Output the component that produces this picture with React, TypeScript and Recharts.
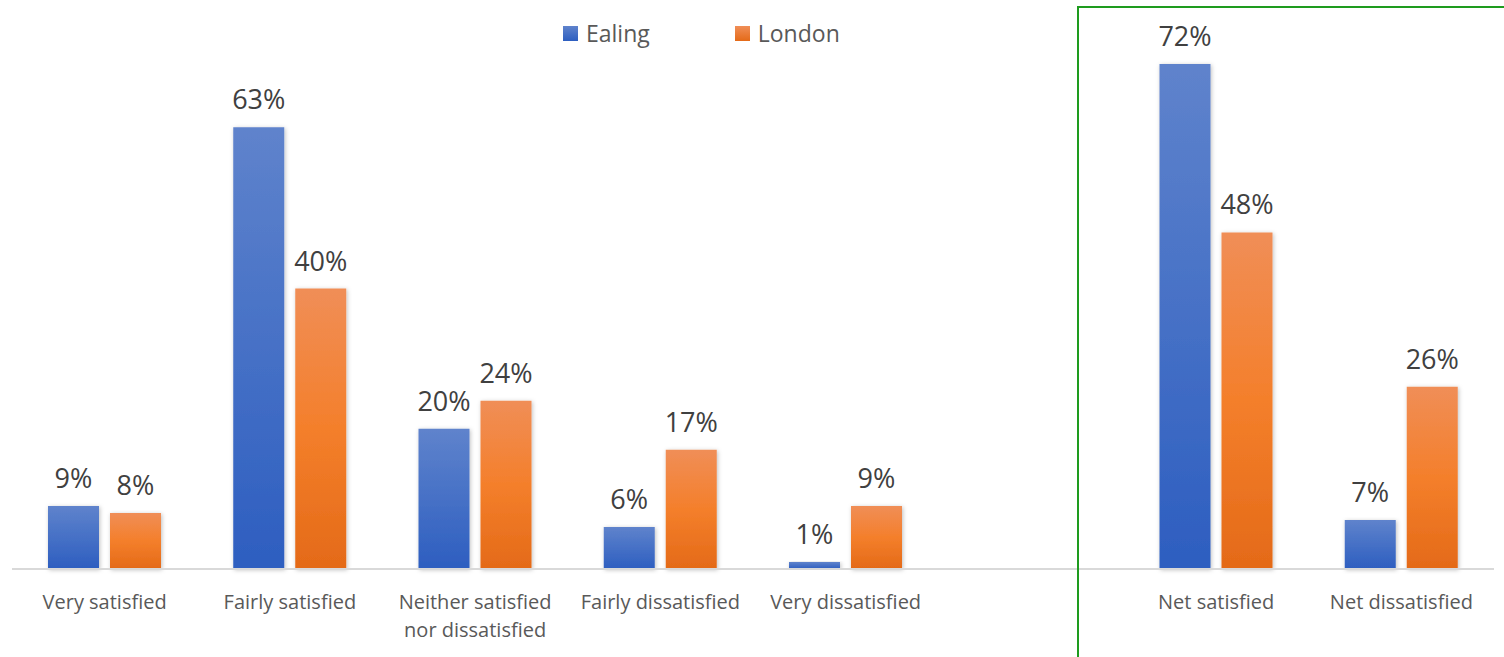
import React from "react";
import { BarChart, Bar, XAxis, YAxis, LabelList } from "recharts";

const categories = [
  "Very satisfied",
  "Fairly satisfied",
  "Neither satisfied\nnor dissatisfied",
  "Fairly dissatisfied",
  "Very dissatisfied",
  "",
  "Net satisfied",
  "Net dissatisfied",
];
const ealing = [9, 63, 20, 6, 1, null, 72, 7];
const london = [8, 40, 24, 17, 9, null, 48, 26];

const data = categories.map((name, i) => ({ name, ealing: ealing[i], london: london[i] }));

const FONT = "'Open Sans', sans-serif";

const pct = (v: any) => (v === null || v === undefined ? "" : `${v}%`);

const CategoryTick = (props: any) => {
  const { x, y, payload } = props;
  const lines = String(payload.value).split("\n");
  return (
    <text x={x} y={y} textAnchor="middle" fill="#595959" fontSize={20} fontFamily={FONT}>
      {lines.map((line, i) => (
        <tspan key={i} x={x} dy={i === 0 ? 32 : 28}>
          {line}
        </tspan>
      ))}
    </text>
  );
};

const LegendItem = ({ color, label }: { color: string; label: string }) => (
  <div style={{ display: "flex", alignItems: "center", marginRight: 85 }}>
    <div style={{ width: 15, height: 15, background: color, marginRight: 8 }} />
    <span style={{ fontSize: 23, color: "#595959", fontFamily: FONT }}>{label}</span>
  </div>
);

export default function App() {
  return (
    <div style={{ position: "absolute", top: 0, left: 0, width: 1504, height: 657, overflow: "hidden", background: "#fff" }}>
      <BarChart
        width={1504}
        height={657}
        data={data}
        margin={{ top: 8, right: 10, left: 12, bottom: 28 }}
        barGap={11}
        barSize={51}
      >
        <defs>
          <linearGradient id="gEaling" x1="0" y1="0" x2="0" y2="1">
            <stop offset="0%" stopColor="#5F83CC" />
            <stop offset="100%" stopColor="#2D5EC0" />
          </linearGradient>
          <linearGradient id="gLondon" x1="0" y1="0" x2="0" y2="1">
            <stop offset="0%" stopColor="#F08E57" />
            <stop offset="50%" stopColor="#F47F2B" />
            <stop offset="100%" stopColor="#E46A18" />
          </linearGradient>
          <filter id="shadow" x="-20%" y="-5%" width="140%" height="115%">
            <feDropShadow dx="1" dy="1" stdDeviation="2" floodColor="#000" floodOpacity="0.25" />
          </filter>
        </defs>
        <XAxis
          dataKey="name"
          height={60}
          tickLine={false}
          axisLine={{ stroke: "#D9D9D9", strokeWidth: 2 }}
          tick={<CategoryTick />}
          interval={0}
        />
        <YAxis hide domain={[0, 80]} />
        <Bar dataKey="ealing" fill="url(#gEaling)" filter="url(#shadow)" isAnimationActive={false}>
          <LabelList
            dataKey="ealing"
            position="top"
            offset={18}
            formatter={pct}
            fill="#404040"
            fontSize={27}
            fontFamily={FONT}
          />
        </Bar>
        <Bar dataKey="london" fill="url(#gLondon)" filter="url(#shadow)" isAnimationActive={false}>
          <LabelList
            dataKey="london"
            position="top"
            offset={18}
            formatter={pct}
            fill="#404040"
            fontSize={27}
            fontFamily={FONT}
          />
        </Bar>
      </BarChart>
      <div
        style={{
          position: "absolute",
          top: 17,
          left: 563,
          display: "flex",
          alignItems: "center",
        }}
      >
        <LegendItem color="linear-gradient(#5F83CC, #2D5EC0)" label="Ealing" />
        <LegendItem color="linear-gradient(#F08E57, #E46A18)" label="London" />
      </div>
      <div
        style={{
          position: "absolute",
          left: 1077,
          top: 6,
          width: 600,
          height: 700,
          border: "2px solid #1E9B1E",
          boxSizing: "border-box",
        }}
      />
    </div>
  );
}
